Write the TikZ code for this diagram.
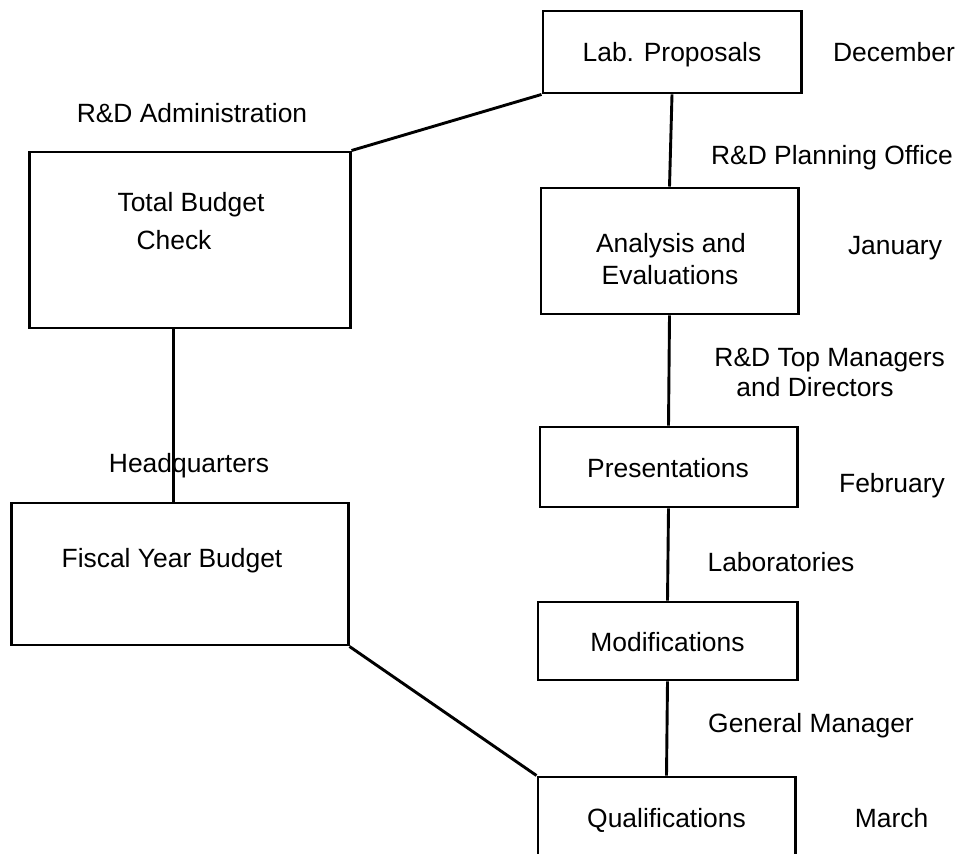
\documentclass[tikz,border=0pt]{standalone}
\usepackage{fontspec}
\setmainfont{Liberation Sans}
\usetikzlibrary{calc}
\begin{document}
\begin{tikzpicture}[x=0.01331cm,y=-0.01331cm,line width=1.1pt,font=\normalsize,
  box/.style={draw,inner sep=0pt},
  lbl/.style={anchor=base,inner sep=0pt}]
\useasboundingbox (0,0) rectangle (963,854);
\clip (0,0) rectangle (963,854);
% boxes
\node[box,minimum width=97.70pt,minimum height=31.05pt] (lab) at (672,52) {};
\node[box,minimum width=97.33pt,minimum height=47.72pt] (ana) at (669.5,251) {};
\node[box,minimum width=97.33pt,minimum height=30.30pt] (pre) at (668.5,467) {};
\node[box,minimum width=98.08pt,minimum height=29.54pt] (mod) at (667.5,641) {};
\node[box,minimum width=97.33pt,minimum height=60.59pt] (qua) at (666.5,857) {};
\node[box,minimum width=121.18pt,minimum height=66.65pt] (tot) at (190,240) {};
\node[box,minimum width=127.24pt,minimum height=53.78pt] (fis) at (180,574) {};
% connectors
\draw (lab.south west) -- (tot.north east);
\draw (lab.south) -- (ana.north);
\draw (ana.south) -- (pre.north);
\draw (pre.south) -- (mod.north);
\draw (mod.south) -- (qua.north);
\coordinate (hq) at ($(tot.south west)!.45!(tot.south east)$);
\draw (hq) -- (hq |- fis.north);
\draw (fis.south east) -- (qua.north west);
% texts
\node[lbl] (tlab) at (672,61.5) {Lab. Proposals};
\node[lbl] (tdec) at (894,61.5) {December};
\node[lbl] (tadm) at (192,122.5) {R\&D Administration};
\node[lbl] (tplan) at (832,164.5) {R\&D Planning Office};
\node[lbl] (ttot) at (191,211.5) {Total Budget};
\node[lbl] (tchk) at (174,249.5) {Check};
\node[lbl] (tana) at (671,252.5) {Analysis and};
\node[lbl] (teva) at (670,284.5) {Evaluations};
\node[lbl] (tjan) at (895,254.5) {January};
\node[lbl,anchor=base west] (ttop) at (713,366.5) {R\&D Top Managers};
\node[lbl,anchor=base west] (tdir) at (735,396.5) {and Directors};
\node[lbl] (thq) at (189,472.5) {Headquarters};
\node[lbl] (tpre) at (668,477.5) {Presentations};
\node[lbl] (tfeb) at (892,492.5) {February};
\node[lbl] (tfis) at (172,567.5) {Fiscal Year Budget};
\node[lbl] (tlabs) at (781,571.5) {Laboratories};
\node[lbl] (tmod) at (667.5,651.5) {Modifications};
\node[lbl] (tgen) at (811,732.5) {General Manager};
\node[lbl] (tqua) at (666.5,827.5) {Qualifications};
\node[lbl] (tmar) at (891.5,827.5) {March};
\end{tikzpicture}
\end{document}
